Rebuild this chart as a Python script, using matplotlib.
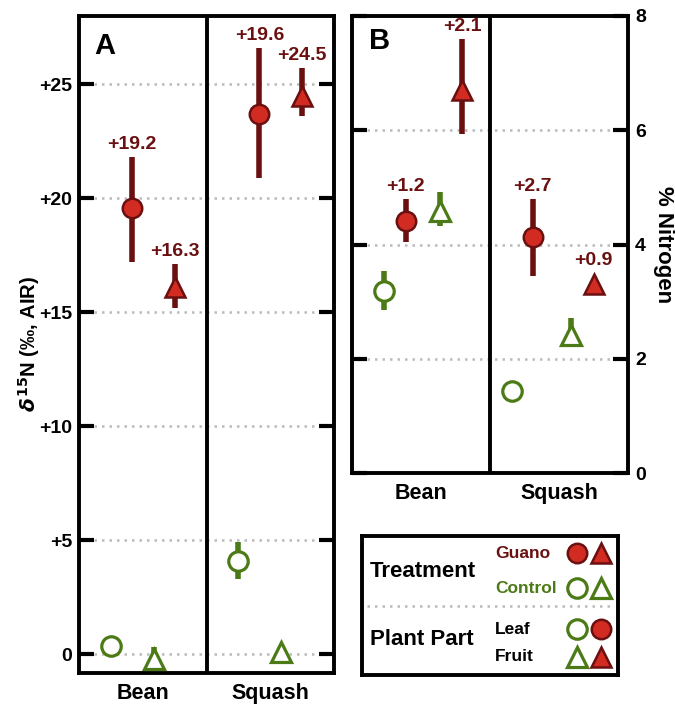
import numpy as np
import matplotlib.pyplot as plt

plt.rcParams['font.family'] = ['Liberation Sans', 'DejaVu Sans']
plt.rcParams['font.weight'] = 'bold'

crops = ['Bean', 'Squash']
red_fill = '#d22b22'
red_dark = '#6a1010'
green = '#4b7a16'

# panel A: d15N
a_guano_leaf = [19.56, 23.7]
a_guano_leaf_err = [[17.2, 21.8], [20.9, 26.6]]
a_guano_fruit = [16.1, 24.5]
a_guano_fruit_err = [[15.2, 17.1], [23.6, 25.7]]
a_ctrl_leaf = [0.35, 4.08]
a_ctrl_leaf_err = [None, [3.3, 4.9]]
a_ctrl_fruit = [-0.2, 0.1]
a_ctrl_fruit_err = [[-0.6, 0.3], None]
a_leaf_labels = ['+19.2', '+19.6']
a_fruit_labels = ['+16.3', '+24.5']

# panel B: % nitrogen
b_guano_leaf = [4.42, 4.13]
b_guano_leaf_err = [[4.05, 4.79], [3.45, 4.8]]
b_guano_fruit = [6.7, 3.3]
b_guano_fruit_err = [[5.93, 7.6], None]
b_ctrl_leaf = [3.19, 1.43]
b_ctrl_leaf_err = [[2.86, 3.53], None]
b_ctrl_fruit = [4.58, 2.42]
b_ctrl_fruit_err = [[4.32, 4.92], [2.21, 2.71]]
b_leaf_labels = ['+1.2', '+2.7']
b_fruit_labels = ['+2.1', '+0.9']

fig = plt.figure(figsize=(6.75, 7.06), dpi=100)
axA = fig.add_axes([79/675, 1-673/706, 255/675, 657/706])
axB = fig.add_axes([352/675, 1-473/706, 276/675, 457/706])
axL = fig.add_axes([362/675, 1-675/706, 256/675, 139/706])


def draw_group(ax, xs, vals, errs, marker, guano, labels=None, lab_pad=3):
    col = red_dark if guano else green
    for i, (x, v, e) in enumerate(zip(xs, vals, errs)):
        if e is not None:
            ax.plot([x, x], e, color=col, lw=4, solid_capstyle='butt', zorder=3)
        ms = 14 if marker == 'o' else 15
        if guano:
            ax.plot(x, v, marker=marker, ms=ms, mfc=red_fill, mec=red_dark, mew=1.8,
                    ls='none', zorder=4)
        else:
            ax.plot(x, v, marker=marker, ms=ms, mfc='white', mec=green, mew=2.3,
                    ls='none', zorder=4)
        if labels is not None:
            top = e[1] if e is not None else v
            pad = lab_pad if e is not None else 11
            ax.annotate(labels[i], (x, top), xytext=(0, pad), textcoords='offset points',
                        ha='center', va='bottom', color=red_dark, fontsize=14,
                        fontweight='bold')


def style_axes(ax, ylim, ticks, ticklabels, right=False):
    ax.set_xlim(-0.5, 1.5)
    ax.set_ylim(*ylim)
    ax.set_yticks(ticks)
    ax.set_yticklabels(ticklabels)
    ax.set_xticks([0, 1])
    ax.set_xticklabels(crops)
    ax.tick_params(axis='x', length=0, labelsize=15.5, pad=7)
    ax.tick_params(axis='y', direction='in', length=11, width=3, labelsize=14,
                   left=True, right=True, labelleft=not right, labelright=right, pad=5)
    for s in ax.spines.values():
        s.set_linewidth(2.8)
    ax.grid(axis='y', color='#bbbbbb', ls=(0, (1, 2)), lw=1.8, zorder=0)
    ax.axvline(0.5, color='black', lw=2.8, zorder=2)
    for t in ax.get_xticklabels() + ax.get_yticklabels():
        t.set_fontweight('bold')


x = np.arange(len(crops))

# panel A
offA = [-0.25, -0.085, 0.085, 0.25]
draw_group(axA, x + offA[0], a_ctrl_leaf, a_ctrl_leaf_err, 'o', False)
draw_group(axA, x + offA[1], a_guano_leaf, a_guano_leaf_err, 'o', True, a_leaf_labels)
draw_group(axA, x + offA[2], a_ctrl_fruit, a_ctrl_fruit_err, '^', False)
draw_group(axA, x + offA[3], a_guano_fruit, a_guano_fruit_err, '^', True, a_fruit_labels)
style_axes(axA, (-0.83, 28.0), [0, 5, 10, 15, 20, 25], ['0', '+5', '+10', '+15', '+20', '+25'])
axA.set_ylabel(r'$\delta^{\mathbf{15}}$N (‰, AIR)', fontsize=14.5, fontweight='bold', labelpad=-2)
axA.text(0.06, 0.975, 'A', transform=axA.transAxes, fontsize=21, fontweight='bold',
         va='top', ha='left')

# panel B
offB = [-0.27, -0.11, 0.14, 0.30]
offB_sq = [-0.34, -0.19, 0.09, 0.25]
xb = [np.array([x[0] + offB[k], x[1] + offB_sq[k]]) for k in range(4)]
draw_group(axB, xb[0], b_ctrl_leaf, b_ctrl_leaf_err, 'o', False)
draw_group(axB, xb[1], b_guano_leaf, b_guano_leaf_err, 'o', True, b_leaf_labels)
draw_group(axB, xb[2], b_ctrl_fruit, b_ctrl_fruit_err, '^', False)
draw_group(axB, xb[3], b_guano_fruit, b_guano_fruit_err, '^', True, b_fruit_labels)
style_axes(axB, (0, 8), [0, 2, 4, 6, 8], ['0', '2', '4', '6', '8'], right=True)
axB.yaxis.set_label_position('right')
axB.set_ylabel('% Nitrogen', fontsize=16, fontweight='bold', rotation=270, labelpad=20)
axB.text(0.06, 0.975, 'B', transform=axB.transAxes, fontsize=21, fontweight='bold',
         va='top', ha='left')

# legend box
axL.set_xlim(0, 1)
axL.set_ylim(0, 1)
axL.set_xticks([])
axL.set_yticks([])
for s in axL.spines.values():
    s.set_linewidth(2.8)
axL.axhline(0.5, xmin=0.02, xmax=0.98, color='#bbbbbb', ls=(0, (1, 2)), lw=1.8)
axL.text(0.03, 0.745, 'Treatment', fontsize=16, fontweight='bold', va='center')
axL.text(0.03, 0.255, 'Plant Part', fontsize=16, fontweight='bold', va='center')
axL.text(0.52, 0.875, 'Guano', fontsize=12.5, fontweight='bold', color=red_dark, va='center')
axL.text(0.52, 0.625, 'Control', fontsize=12.5, fontweight='bold', color=green, va='center')
axL.text(0.52, 0.33, 'Leaf', fontsize=12.5, fontweight='bold', color='black', va='center')
axL.text(0.52, 0.13, 'Fruit', fontsize=12.5, fontweight='bold', color='black', va='center')
leg_rows = [(0.875, [('o', True), ('^', True)]),
            (0.625, [('o', False), ('^', False)]),
            (0.33, [('o', False), ('o', True)]),
            (0.13, [('^', False), ('^', True)])]
for yy, items in leg_rows:
    for xx, (m, g) in zip([0.84, 0.935], items):
        if g:
            axL.plot(xx, yy, marker=m, ms=14, mfc=red_fill, mec=red_dark, mew=1.8)
        else:
            axL.plot(xx, yy, marker=m, ms=14, mfc='white', mec=green, mew=2.3)

fig.savefig('out.png', dpi=100)
